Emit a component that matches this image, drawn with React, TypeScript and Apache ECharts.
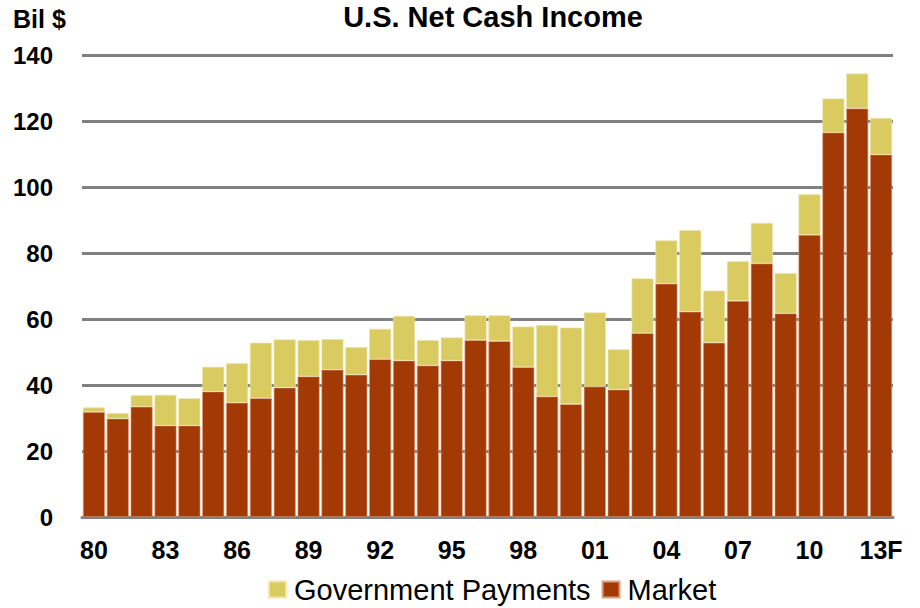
import React, { useEffect, useRef } from "react";
import * as echarts from "echarts";

const years = ["80","81","82","83","84","85","86","87","88","89","90","91","92","93","94","95","96","97","98","99","00","01","02","03","04","05","06","07","08","09","10","11","12","13F"];
const totals = [33.2,31.5,36.9,37.0,36.0,45.5,46.6,52.8,53.8,53.6,53.9,51.5,57.0,60.9,53.6,54.4,61.1,61.1,57.7,58.1,57.4,62.0,50.8,72.3,83.8,86.9,68.6,77.5,89.1,73.9,97.8,126.8,134.4,120.9];
const market = [31.8,29.8,33.4,27.7,27.7,38.0,34.6,36.0,39.2,42.6,44.6,43.1,47.8,47.4,45.9,47.4,53.6,53.3,45.4,36.5,34.2,39.5,38.6,55.7,70.7,62.2,52.8,65.5,76.8,61.7,85.5,116.5,123.8,109.8];
const government = totals.map((t, i) => Math.round((t - market[i]) * 10) / 10);
const yTicks = [0, 20, 40, 60, 80, 100, 120, 140];

export default function App() {
  const ref = useRef<HTMLDivElement>(null);
  useEffect(() => {
    const chart = echarts.init(ref.current!, null, { renderer: "svg" });
    const font = "'Liberation Sans', Arial, sans-serif";
    chart.setOption({
      animation: false,
      backgroundColor: "#ffffff",
      graphic: [
        {
          type: "text",
          x: 493,
          y: 17,
          style: {
            text: "U.S. Net Cash Income",
            fontFamily: font,
            fontSize: 29,
            fontWeight: "bold",
            fill: "#000",
            align: "center",
            verticalAlign: "middle",
          },
        },
        {
          type: "text",
          x: 13,
          y: 19,
          style: {
            text: "Bil $",
            fontFamily: font,
            fontSize: 25,
            fontWeight: "bold",
            fill: "#000",
            align: "left",
            verticalAlign: "middle",
          },
        },
      ],
      legend: {
        data: ["Government Payments", "Market"],
        top: 575,
        left: 268,
        itemWidth: 17,
        itemHeight: 16,
        itemGap: 11,
        icon: "rect",
        padding: 0,
        textStyle: { fontFamily: font, fontSize: 29, color: "#000", padding: [0, 0, 0, 3] },
      },
      grid: { left: 82, right: 27, top: 55, bottom: 91, containLabel: false },
      xAxis: {
        type: "category",
        data: years,
        axisTick: { show: false },
        axisLine: { show: true, lineStyle: { color: "#808080", width: 3 } },
        axisLabel: {
          interval: 2,
          fontFamily: font,
          fontSize: 25,
          fontWeight: "bold",
          color: "#000",
          margin: 20,
        },
      },
      yAxis: {
        type: "value",
        min: yTicks[0],
        max: yTicks[yTicks.length - 1],
        interval: 20,
        axisLine: { show: false },
        axisTick: { show: false },
        splitLine: { lineStyle: { color: "#808080", width: 3 } },
        axisLabel: {
          fontFamily: font,
          fontSize: 24,
          fontWeight: "bold",
          color: "#000",
          margin: 29,
        },
      },
      series: [
        {
          name: "Market",
          type: "bar",
          stack: "total",
          data: market,
          barCategoryGap: "8%",
          itemStyle: { color: "#A33A05", borderColor: "#d9a080", borderWidth: 0.6 },
        },
        {
          name: "Government Payments",
          type: "bar",
          stack: "total",
          data: government,
          barCategoryGap: "8%",
          itemStyle: { color: "#D9CB60", borderColor: "#efe6b0", borderWidth: 0.6 },
        },
      ],
    });
    return () => chart.dispose();
  }, []);
  return (
    <div
      ref={ref}
      style={{ position: "fixed", left: 0, top: 0, width: 920, height: 608 }}
    />
  );
}
